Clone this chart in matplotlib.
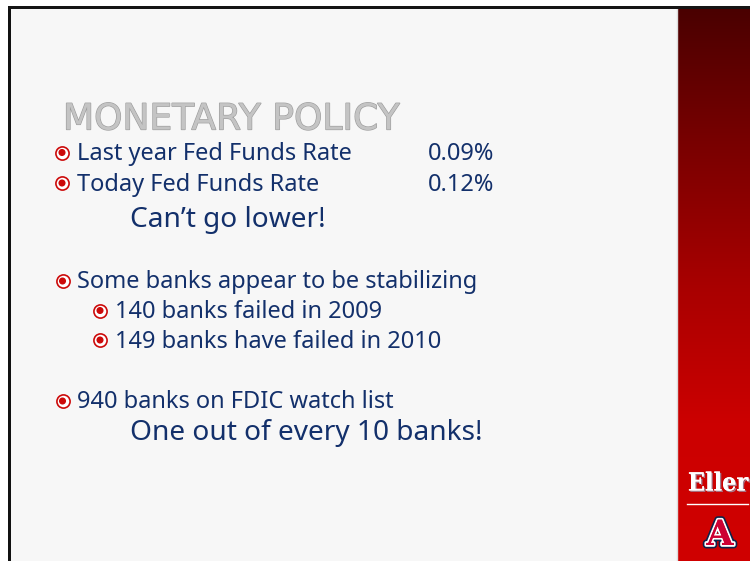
import matplotlib
matplotlib.use("Agg")
import matplotlib.pyplot as plt
import numpy as np
import matplotlib.patheffects as pe
from matplotlib.colors import LinearSegmentedColormap
from matplotlib.patches import Rectangle

# ---- content ----
title = "MONETARY POLICY"
rate_labels = ["Last year Fed Funds Rate", "Today Fed Funds Rate"]
rate_values = [0.09, 0.12]
rate_note = "Can\u2019t go lower!"
bank_headline = "Some banks appear to be stabilizing"
failure_years = [2009, 2010]
failure_counts = [140, 149]
failure_templates = ["{n} banks failed in {y}", "{n} banks have failed in {y}"]
watch_count = 940
watch_note = "One out of every 10 banks!"
brand = "Eller"

W, H = 750, 561
NAVY = "#13306b"
RED = "#cc0a0a"
BODY_FONT = "Noto Sans"
TITLE_FONT = "DejaVu Sans"

fig = plt.figure(figsize=(7.5, 5.61), dpi=100)
fig.patch.set_facecolor("white")
ax = fig.add_axes([0, 0, 1, 1])
ax.set_xlim(0, W)
ax.set_ylim(H, 0)
ax.axis("off")

# slide background and borders
ax.add_patch(Rectangle((9, 7), 670, H, facecolor="#f7f7f7", edgecolor="none", zorder=0))
grad = np.linspace(0, 1, 256).reshape(-1, 1)
cmap = LinearSegmentedColormap.from_list("bar", ["#4a0000", "#7a0000", "#a80000", "#cc0000", "#d00000"])
ax.imshow(grad, extent=(678, W, H, 8), cmap=cmap, aspect="auto", zorder=1)
ax.plot([676.5, 676.5], [8, H], color="#dcdcdc", lw=1, zorder=2)
ax.add_patch(Rectangle((8, 6), 3, H, facecolor="#111111", edgecolor="none", zorder=3))
ax.add_patch(Rectangle((8, 6), W, 3, facecolor="#151515", edgecolor="none", zorder=3))

texts = []  # (artist, target_width, group)

def put(x, y, s, size, target, group, family=BODY_FONT, **kw):
    t = ax.text(x, y, s, fontsize=size, family=family,
                color=kw.pop("color", NAVY), va="baseline", ha="left", zorder=5, **kw)
    texts.append((t, target, group))
    return t

def bullet(x, y):
    ax.scatter([x], [y], s=90, facecolor="white", edgecolor=RED, linewidths=1.2, zorder=5)
    ax.scatter([x], [y], s=26, facecolor=RED, edgecolor="none", zorder=6)

# title
put(63, 129.5, title, 28, 337, "title", family=TITLE_FONT, color="#c4c4c4",
    path_effects=[pe.withStroke(linewidth=0.9, foreground="#9c9c9c")])

# rates
rate_y = [160, 190.5]
rate_w = [278, 241]
for lab, val, y, w in zip(rate_labels, rate_values, rate_y, rate_w):
    bullet(62, y - 7.5)
    put(77, y, lab, 17, w, "body")
    put(428, y, f"{val:.2f}%", 17, 62, "body")
put(130, 226.5, rate_note, 22, 199, "note")

# banks
bullet(62.5, 281)
put(77, 288, bank_headline, 17, 400, "body")
sub_y = [318, 347.5]
sub_w = [268, 328]
for tpl, n, yr, y, w in zip(failure_templates, failure_counts, failure_years, sub_y, sub_w):
    bullet(100, y - 7.5)
    put(115, y, tpl.format(n=n, y=yr), 17, w, "body")

bullet(62.5, 401)
put(77, 407.5, f"{watch_count} banks on FDIC watch list", 17, 317, "body")
put(130, 440, watch_note, 22, 347, "note")

# fit font sizes per group to match widths
fig.canvas.draw()
r = fig.canvas.get_renderer()
ratios = {}
for t, target, g in texts:
    wpx = t.get_window_extent(r).width
    ratios.setdefault(g, []).append(target / wpx)
for t, target, g in texts:
    t.set_fontsize(t.get_fontsize() * float(np.median(ratios[g])))

# logo area
ax.text(718, 490.5, brand, fontsize=18, family="DejaVu Serif", fontweight="bold",
        fontstretch="condensed", color="white", ha="center", va="baseline", zorder=5,
        path_effects=[pe.withSimplePatchShadow(offset=(1, -1), shadow_rgbFace="#9a9ab0", alpha=0.8),
                      pe.Normal()])
ax.plot([687, 748], [503.5, 503.5], color="white", lw=1, zorder=5)
ax.text(720, 545, "A", fontsize=25, family="DejaVu Serif", fontweight="bold",
        color="#cc0033", ha="center", va="baseline", zorder=5,
        path_effects=[pe.withStroke(linewidth=5, foreground="#0c234b"),
                      pe.withStroke(linewidth=2.6, foreground="white"), pe.Normal()])

fig.savefig("out.png", dpi=100, facecolor="white")
